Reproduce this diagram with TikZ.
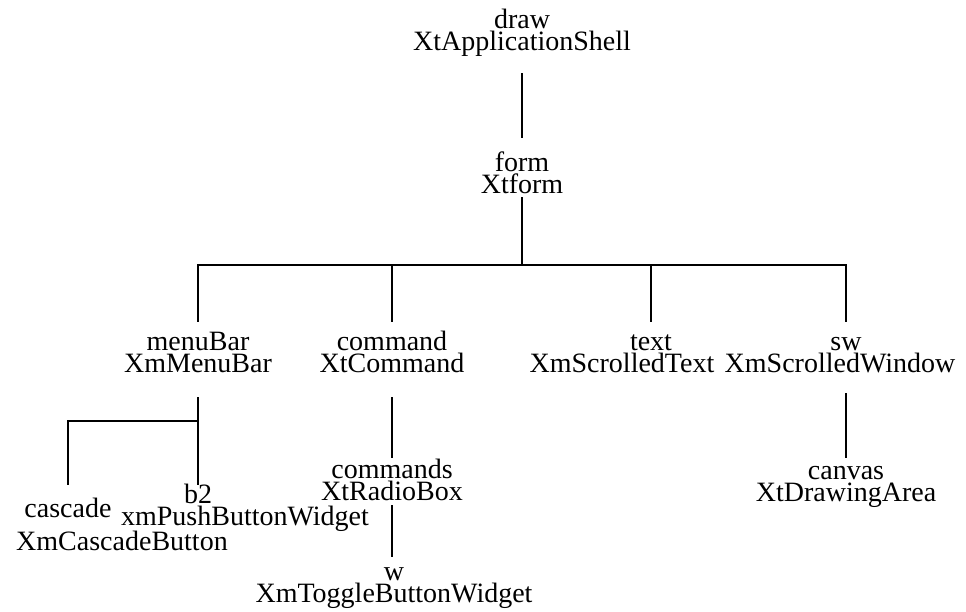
\documentclass[tikz,border=0pt]{standalone}
\usepackage{fontspec}
\setmainfont{Liberation Serif}
\usetikzlibrary{positioning}
\begin{document}
\begin{tikzpicture}[x=1pt, y=-1pt, line width=1.1pt]
        \tikzstyle{wgt} = [align=center, inner sep=0pt, anchor=base, font=\fontsize{28}{22}\selectfont]
    \useasboundingbox (0,0) rectangle (966,611);
    \node[wgt] (shell) at (522,50) {draw\\XtApplicationShell};
    \node[wgt] (form) at (522,193) {form\\Xtform};
    \node[wgt] (menubar) at (198,372) {menuBar\\XmMenuBar};
    \node[wgt] (command) at (392,372) {command\\XtCommand};
    \node[wgt] (txt) at (651,350) {text};
    \node[wgt] (txtC) at (622,372) {XmScrolledText};
    \node[wgt] (sw) at (846,350) {sw};
    \node[wgt] (swC) at (840,372) {XmScrolledWindow};
    \node[wgt] (cascade) at (68,517) {cascade};
    \node[wgt] (cascadeC) at (122,550) {XmCascadeButton};
    \node[wgt] (b2) at (198,503) {b2};
    \node[wgt] (b2C) at (245,525) {xmPushButtonWidget};
    \node[wgt] (commands) at (392,500) {commands\\XtRadioBox};
    \node[wgt] (w) at (394,602) {w\\XmToggleButtonWidget};
    \node[wgt] (canvas) at (846,501) {canvas\\XtDrawingArea};

    \coordinate (fbar) at (522,265);
    \coordinate (mbar) at (198,421);
    \draw ([yshift=-23pt]shell.base) -- ([yshift=55pt]form.base);
    \draw ([yshift=-4pt]form.base) -- (fbar);
    \foreach \c in {menubar,command}
        \draw (fbar) -| ([yshift=50pt]\c.base);
    \foreach \c in {txt,sw}
        \draw (fbar) -| ([yshift=28pt]\c.base);
    \draw ([yshift=-25pt]menubar.base) -- ([yshift=18pt]b2.base);
    \draw (mbar) -| ([yshift=32pt]cascade.base);
    \draw ([yshift=-25pt]command.base) -- ([yshift=42pt]commands.base);
    \draw ([yshift=-5pt]commands.base) -- ([yshift=45pt]commands.base |- w.base);
    \draw ([yshift=-43pt]sw.base) -- ([yshift=43pt]canvas.base);
  \end{tikzpicture}
\end{document}
